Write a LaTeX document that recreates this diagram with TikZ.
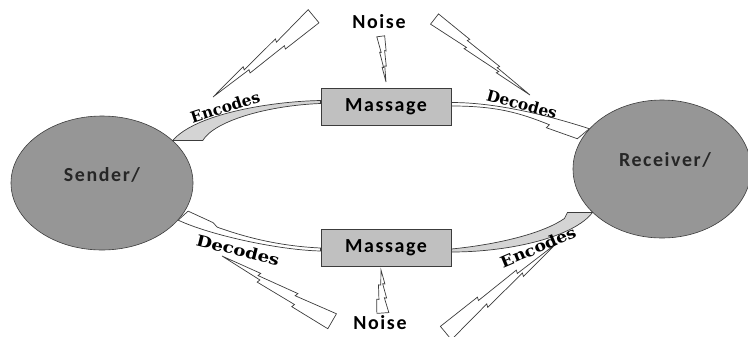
\documentclass[tikz,border=0pt]{standalone}
\usepackage{fontspec}
\usetikzlibrary{shapes.geometric}
\newfontfamily\boxfont{Carlito}[LetterSpace=8.0]
\newfontfamily\arrowfont{DejaVu Serif}
\definecolor{partyfill}{RGB}{150,150,150}
\definecolor{boxfill}{RGB}{192,192,192}
\definecolor{wedgefill}{RGB}{212,212,212}
\definecolor{edgegray}{RGB}{60,60,60}
% lightning bolt: tip x, tip y, angle, length, width
\newcommand{\noisebolt}[5]{
  \draw[boltline, shift={(#1,#2)}, rotate=#3, xscale=#4, yscale=#5]
    (0,0) -- (0.33,-0.06) -- (0.32,-0.015) -- (0.66,-0.075) -- (0.65,-0.03) -- (1,-0.1)
    -- (1,0.14) -- (0.67,0.125) -- (0.68,0.08) -- (0.34,0.07) -- (0.35,0.025) -- cycle;}

\begin{document}
\begin{tikzpicture}[x=1bp, y=-1bp]

\tikzset{ party/.style={ellipse, draw=edgegray, fill=partyfill, line width=0.6bp, inner sep=0pt},
  partytext/.style={font={\fontsize{20}{24}\selectfont\boxfont\bfseries}, text=black!85},
  msgbox/.style={rectangle, draw=edgegray, fill=boxfill, line width=1bp, minimum width=130bp,
    minimum height=37bp, inner sep=0pt, font={\fontsize{20}{24}\selectfont\boxfont\bfseries}},
  noisetext/.style={font={\fontsize{20}{24}\selectfont\boxfont\bfseries}, inner sep=0pt},
  arrowtext/.style={font={\fontsize{15.5}{18}\selectfont\arrowfont\bfseries}, inner sep=0pt},
  wedge/.style={draw=edgegray, fill=wedgefill, line width=0.7bp},
  openband/.style={draw=edgegray, fill=white, line width=0.7bp},
  boltline/.style={draw=edgegray, line width=0.7bp, line join=miter}
}

\useasboundingbox (0,0) rectangle (748,336);

% parties
\node[party, minimum width=182bp, minimum height=134bp,
  label={[partytext, yshift=8bp]center:Sender/}] (sender) at (102,183) {};
\node[party, minimum width=178bp, minimum height=138bp,
  label={[partytext, yshift=9bp, xshift=3bp]center:Receiver/}] (receiver) at (662,169) {};

% messages
\node[msgbox] (msgtop) at (386,106.5) {Massage};
\node[msgbox] (msgbot) at (386,247.5) {Massage};

% upper channel
\filldraw[wedge] (sender.31) .. controls +(22,-26) and +(-52,1) .. ([shift={(0,-6)}]msgtop.west)
  -- ([shift={(0,-3)}]msgtop.west) .. controls +(-52,2) and +(12,-20) .. ([shift={(30,0)}]sender.31) -- cycle;
\filldraw[openband] ([shift={(0,-4)}]msgtop.east) .. controls +(49,0) and +(-34,-11) .. (receiver.151)
  -- ([shift={(-12,10)}]receiver.151) -- ([shift={(-43,-1)}]receiver.151) -- ([shift={(-40,-4)}]receiver.151)
  .. controls +(-30,-12) and +(45,0) .. ([shift={(0,-0.5)}]msgtop.east) -- cycle;

% lower channel
\filldraw[openband] ([shift={(0,0.5)}]msgbot.west) .. controls +(-42,-2) and +(28,10) .. ([shift={(39,7)}]sender.-26)
  -- ([shift={(35,2.5)}]sender.-26) -- ([shift={(10,-9)}]sender.-26) -- (sender.-26)
  .. controls +(32,15) and +(-42,-1) .. ([shift={(0,3.5)}]msgbot.west) -- cycle;
\filldraw[wedge] ([shift={(0,1.5)}]msgbot.east) .. controls +(50,-5) and +(-20,14) .. ([shift={(-28,6)}]receiver.212)
  -- ([shift={(-25,0)}]receiver.212) -- (receiver.212)
  .. controls +(-18,24) and +(60,0) .. ([shift={(0,4.5)}]msgbot.east) -- cycle;

% noise
\noisebolt{213}{97}{39.4}{129}{71}
\noisebolt{530}{95}{142}{122}{54}
\noisebolt{222}{256}{-30}{128}{72}
\noisebolt{557}{243}{219.6}{143}{72}
\noisebolt{386}{82}{97.4}{46}{33}
\noisebolt{381}{270}{-86.2}{43}{50}
\node[noisetext] (noisetop) at (379,22) {Noise};
\node[noisetext] (noisebot) at (380,323) {Noise};

% labels
\node[arrowtext, rotate=18] (enctop) at (225,107) {Encodes};
\node[arrowtext, rotate=-15] (dectop) at (522,104) {Decodes};
\node[arrowtext, rotate=-14, xscale=1.18] (decbot) at (238,250) {Decodes};
\node[arrowtext, rotate=23, xscale=1.12] (encbot) at (538,247) {Encodes};

\end{tikzpicture}
\end{document}
